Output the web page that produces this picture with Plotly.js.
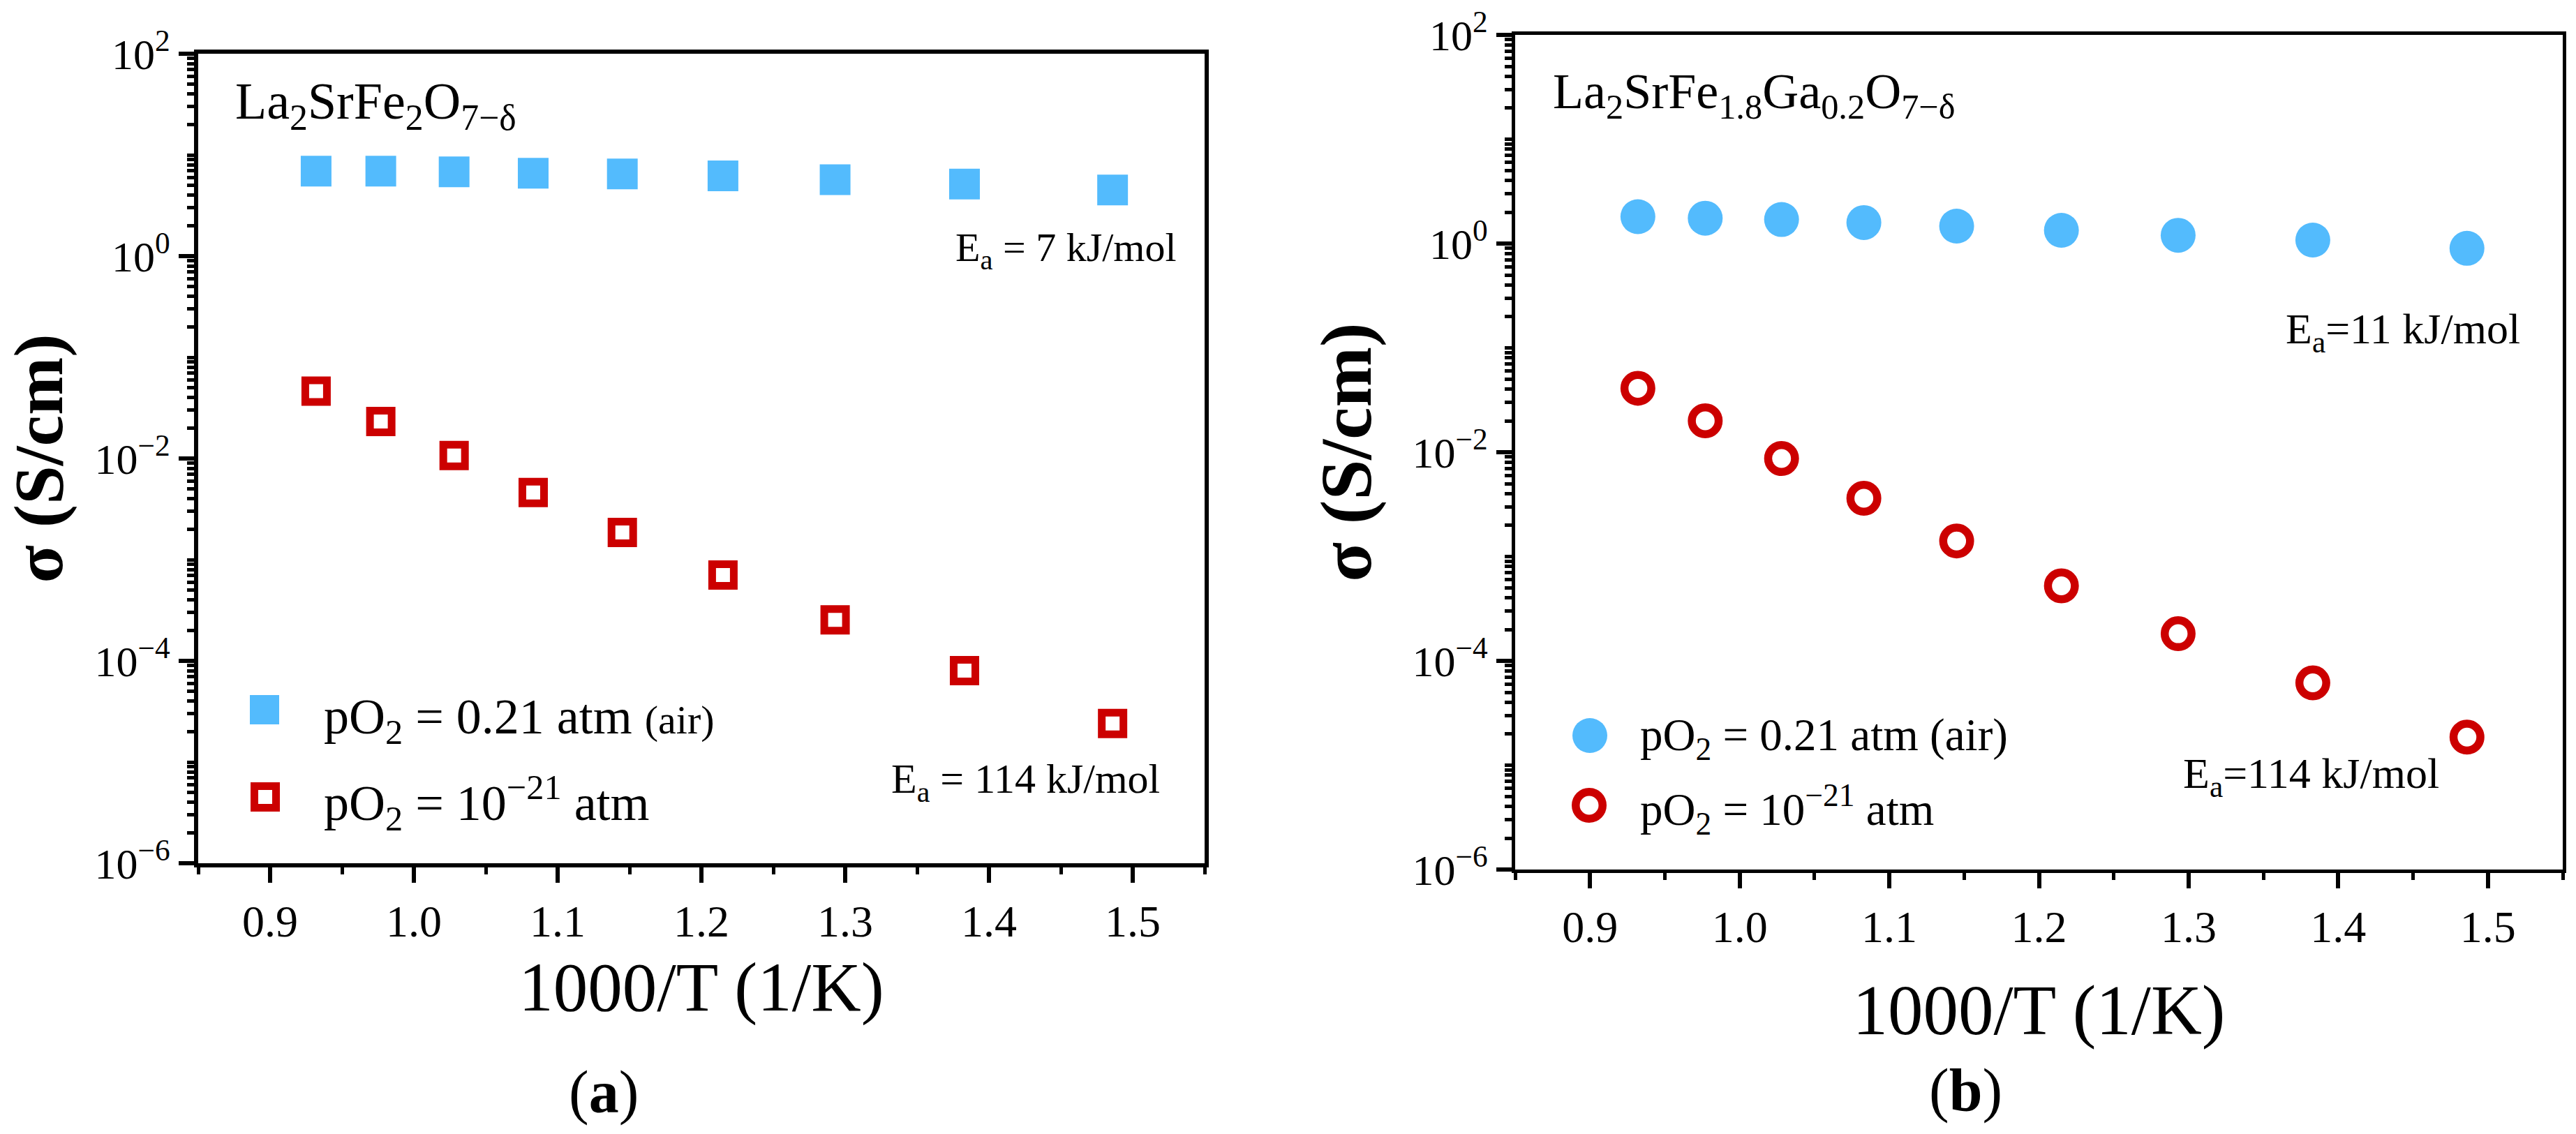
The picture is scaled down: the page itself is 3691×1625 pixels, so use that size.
<!DOCTYPE html>
<html>
<head>
<meta charset="utf-8">
<script src="https://cdn.plot.ly/plotly-3.0.1.min.js"></script>
<style>
  html, body { margin: 0; padding: 0; background: #fff; }
  #chart { width: 3691px; height: 1625px; }
</style>
</head>
<body>
<div id="chart"></div>
<script>
// 1000/T (1/K), measured at 800 ... 400 °C
const invT = [0.932, 0.977, 1.028, 1.083, 1.145, 1.215, 1.293, 1.383, 1.486];

// (a) La2SrFe2O7-d, conductivity in S/cm
const sigmaAirA = [6.9, 6.9, 6.8, 6.6, 6.5, 6.2, 5.7, 5.15, 4.5];
const sigmaLowA = [0.0463, 0.0232, 0.0107, 0.00462, 0.00186, 7.05e-4, 2.54e-4, 8.0e-5, 2.4e-5];

// (b) La2SrFe1.8Ga0.2O7-d
const sigmaAirB = [1.81, 1.75, 1.70, 1.59, 1.47, 1.34, 1.20, 1.08, 0.90];
const sigmaLowB = [0.041, 0.020, 0.0087, 0.00362, 0.00141, 5.24e-4, 1.82e-4, 6.15e-5, 1.86e-5];

// labelled decades get long ticks, the ones in between long ticks without text
const labelDecades = [1e-6, 1e-4, 1e-2, 1, 100];
const labelText = ['10<sup>\u22126</sup>', '10<sup>\u22124</sup>', '10<sup>\u22122</sup>',
                   '10<sup>0</sup>', '10<sup>2</sup>'];
const xTickVals = [0.9, 1.0, 1.1, 1.2, 1.3, 1.4, 1.5];
const xTickText = ['0.9', '1.0', '1.1', '1.2', '1.3', '1.4', '1.5'];

const W = 3691, H = 1625;
const FONT = 'Liberation Serif, Times New Roman, serif';
const BLUE = '#53bbfd';
const RED = '#cc0000';

const px = x => x / W;
const py = y => 1 - y / H;

function xAxis(domain, anchor, lw, titleSize, standoff) {
    return {
        domain, anchor,
        range: [0.85, 1.55],
        tickmode: 'array', tickvals: xTickVals, ticktext: xTickText,
        ticks: 'outside', ticklen: 22, tickwidth: 6, tickcolor: '#000',
        minor: { tick0: 0.85, dtick: 0.1, ticks: 'outside', ticklen: 10, tickwidth: 5, tickcolor: '#000' },
        showline: true, linewidth: lw, linecolor: '#000', mirror: true,
        showgrid: false, zeroline: false,
        tickfont: { family: FONT, size: 64, color: '#000' },
        title: { text: '1000/T (1/K)', font: { family: FONT, size: titleSize, color: '#000' }, standoff },
    };
}

function yAxis(domain, anchor, lw, titleSize, standoff) {
    return {
        domain, anchor,
        type: 'log',
        range: [-6, 2],
        tickmode: 'array', tickvals: labelDecades, ticktext: labelText,
        ticks: 'outside', ticklen: 22, tickwidth: 6, tickcolor: '#000',
        minor: { dtick: 'D1', ticks: 'outside', ticklen: 10, tickwidth: 5, tickcolor: '#000' },
        showline: true, linewidth: lw, linecolor: '#000', mirror: true,
        showgrid: false, zeroline: false,
        tickfont: { family: FONT, size: 62, color: '#000' },
        title: { text: '<b>\u03c3 (S/cm)</b>', font: { family: FONT, size: titleSize, color: '#000' }, standoff },
    };
}

// second y axis per panel, overlaid, only to draw the long ticks at odd decades
function oddDecadeAxis(overlaying, anchor) {
    return {
        overlaying, anchor, side: 'left',
        type: 'log', range: [-6, 2],
        tickmode: 'array', tickvals: [1e-5, 1e-3, 1e-1, 10],
        showticklabels: false,
        ticks: 'outside', ticklen: 22, tickwidth: 6, tickcolor: '#000',
        showline: false, showgrid: false, zeroline: false,
    };
}

const traces = [
    { x: invT, y: sigmaAirA, xaxis: 'x', yaxis: 'y', mode: 'markers', cliponaxis: false,
      marker: { symbol: 'square', size: 44, color: BLUE, line: { width: 0 } } },
    { x: invT, y: sigmaLowA, xaxis: 'x', yaxis: 'y', mode: 'markers', cliponaxis: false,
      marker: { symbol: 'square-open', size: 31, color: RED, line: { width: 11, color: RED } } },
    { x: invT, y: sigmaAirB, xaxis: 'x2', yaxis: 'y2', mode: 'markers', cliponaxis: false,
      marker: { symbol: 'circle', size: 50, color: BLUE, line: { width: 0 } } },
    { x: invT, y: sigmaLowB, xaxis: 'x2', yaxis: 'y2', mode: 'markers', cliponaxis: false,
      marker: { symbol: 'circle-open', size: 38.5, color: RED, line: { width: 11.5, color: RED } } },
];

function note(text, x, y, size, xanchor) {
    return {
        text, xref: 'paper', yref: 'paper', x: px(x), y: py(y),
        xanchor: xanchor || 'left', yanchor: 'middle', showarrow: false,
        font: { family: FONT, size, color: '#000' },
    };
}

const annotations = [
    // panel (a)
    note('La<sub>2</sub>SrFe<sub>2</sub>O<sub>7\u2212\u03b4</sub>', 335, 150, 74),
    note('E<sub>a</sub> = 7 kJ/mol', 1688, 358, 58, 'right'),
    note('E<sub>a</sub> = 114 kJ/mol', 1664, 1120, 60, 'right'),
    note('pO<sub>2</sub> = 0.21 atm <span style="font-size:58px">(air)</span>', 462, 1032, 72),
    note('pO<sub>2</sub> = 10<sup>\u221221</sup> atm', 462, 1150, 72),
    note('(<b>a</b>)', 865, 1565, 86, 'center'),
    // panel (b)
    note('La<sub>2</sub>SrFe<sub>1.8</sub>Ga<sub>0.2</sub>O<sub>7\u2212\u03b4</sub>', 2223, 136, 72),
    note('E<sub>a</sub>=11 kJ/mol', 3273, 476, 62),
    note('E<sub>a</sub>=114 kJ/mol', 3126, 1112, 62),
    note('pO<sub>2</sub> = 0.21 atm (air)', 2348, 1058, 65),
    note('pO<sub>2</sub> = 10<sup>\u221221</sup> atm', 2348, 1160, 65),
    note('(<b>b</b>)', 2816, 1562, 86, 'center'),
];

// legend keys drawn as pixel-sized shapes
function key(type, cx, cy, half, fill, stroke, lw) {
    return {
        type, xref: 'paper', yref: 'paper',
        xsizemode: 'pixel', ysizemode: 'pixel',
        xanchor: px(cx), yanchor: py(cy),
        x0: -half, x1: half, y0: -half, y1: half,
        fillcolor: fill, line: { color: stroke, width: lw },
    };
}

const shapes = [
    key('rect', 379, 1017, 21, BLUE, BLUE, 0),
    key('rect', 380, 1142, 15.5, 'rgba(0,0,0,0)', RED, 11),
    key('circle', 2278, 1054, 25, BLUE, BLUE, 0),
    key('circle', 2277, 1154, 19.25, 'rgba(0,0,0,0)', RED, 11.5),
];

const layout = {
    width: W, height: H,
    margin: { l: 0, r: 0, t: 0, b: 0 },
    paper_bgcolor: '#fff', plot_bgcolor: '#fff',
    showlegend: false,
    xaxis: xAxis([px(284), px(1726)], 'y', 6, 99, 26),
    yaxis: yAxis([py(1237), py(77)], 'x', 6, 100, 30),
    yaxis3: oddDecadeAxis('y', 'x'),
    xaxis2: xAxis([px(2171), px(3672)], 'y2', 5, 101, 50),
    yaxis2: yAxis([py(1246), py(50)], 'x2', 5, 104, 26),
    yaxis4: oddDecadeAxis('y2', 'x2'),
    annotations, shapes,
};

Plotly.newPlot('chart', traces, layout, { displayModeBar: false });
</script>
</body>
</html>
